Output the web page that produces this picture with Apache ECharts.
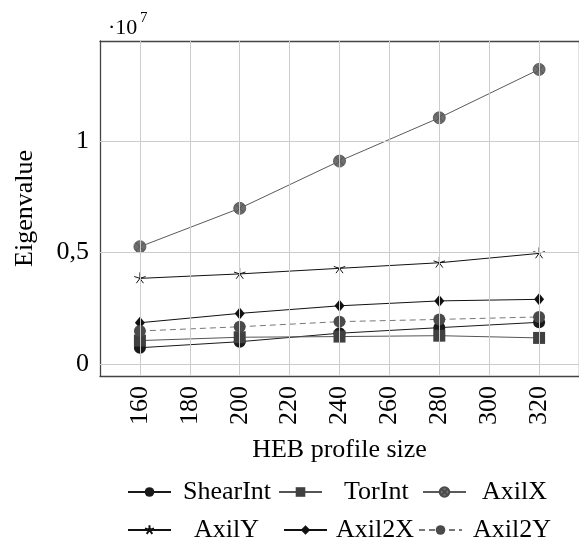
<!DOCTYPE html>
<html>
<head>
<meta charset="utf-8">
<script src="https://cdn.jsdelivr.net/npm/echarts@6/dist/echarts.min.js"></script>
<style>
html,body{margin:0;padding:0;background:#fff;}
#chart{width:579px;height:547px;}
</style>
</head>
<body>
<div id="chart"></div>
<script>
// ---- data (Eigenvalue in units of 10^7) ----
var profileSizes = [160, 200, 240, 280, 320];
var shearInt = [0.073, 0.100, 0.138, 0.163, 0.187];
var torInt   = [0.105, 0.120, 0.123, 0.127, 0.117];
var axilX    = [0.526, 0.698, 0.910, 1.104, 1.321];
var axilY    = [0.384, 0.404, 0.429, 0.454, 0.496];
var axil2X   = [0.185, 0.227, 0.261, 0.283, 0.290];
var axil2Y   = [0.148, 0.167, 0.190, 0.200, 0.211];
var xTickValues = [160, 180, 200, 220, 240, 260, 280, 300, 320];
var yTickValues = [0, 0.5, 1];

var FONT = '"Liberation Serif", "Times New Roman", serif';
function pairs(ys) { return profileSizes.map(function (x, i) { return [x, ys[i]]; }); }

var otimesPath = 'path://M10,0 A10,10 0 1,1 9.999,0 Z M2.93,2.93 L17.07,17.07 M17.07,2.93 L2.93,17.07';
var starPath = 'path://M10,10 L10,0 M10,10 L19.51,6.91 M10,10 L0.49,6.91 M10,10 L4.12,18.09 M10,10 L15.88,18.09 M0,20 M20,20';

var chart = echarts.init(document.getElementById('chart'), null, {renderer: 'canvas'});

var xMin = 144, xMax = 336, yMin = -0.0538, yMax = 1.4484;
var tickStyle = {show: true, inside: true, length: 9, lineStyle: {color: '#555', width: 1}};
var axisLineStyle = {show: true, onZero: false, lineStyle: {color: '#444', width: 1.3}};

function legendItem(name, left, top, pad) {
  return {
    data: [name], left: left, top: top, orient: 'horizontal', padding: 0,
    itemWidth: 43, itemHeight: 12, itemGap: 0, selectedMode: false,
    textStyle: {fontFamily: FONT, fontSize: 26, color: '#000', lineHeight: 30, padding: [0, 0, 0, pad]}
  };
}

var gridLines = xTickValues.map(function (v) { return {xAxis: v}; })
  .concat(yTickValues.map(function (v) { return {yAxis: v}; }));

var option = {
  backgroundColor: '#fff',
  animation: false,
  grid: {left: 100, top: 41, width: 487, height: 335, containLabel: false},
  xAxis: [{
    type: 'value', min: xMin, max: xMax, position: 'bottom',
    name: 'HEB profile size', nameLocation: 'middle', nameGap: 61,
    nameTextStyle: {fontFamily: FONT, fontSize: 26, color: '#000'},
    axisLine: axisLineStyle,
    axisTick: Object.assign({customValues: xTickValues}, tickStyle),
    axisLabel: {customValues: xTickValues, rotate: 90, margin: 10, fontFamily: FONT, fontSize: 26, color: '#000'},
    splitLine: {show: false}
  }, {
    type: 'value', min: xMin, max: xMax, position: 'top',
    axisLine: axisLineStyle,
    axisTick: Object.assign({customValues: xTickValues}, tickStyle),
    axisLabel: {show: false}, splitLine: {show: false}
  }],
  yAxis: [{
    type: 'value', min: yMin, max: yMax, position: 'left',
    name: 'Eigenvalue', nameLocation: 'middle', nameGap: 62,
    nameTextStyle: {fontFamily: FONT, fontSize: 26, color: '#000'},
    axisLine: axisLineStyle,
    axisTick: Object.assign({customValues: yTickValues}, tickStyle),
    axisLabel: {customValues: yTickValues, margin: 11, fontFamily: FONT, fontSize: 26, color: '#000',
      formatter: function (v) { return String(v).replace('.', ','); }},
    splitLine: {show: false}
  }, {
    type: 'value', min: yMin, max: yMax, position: 'right',
    axisLine: axisLineStyle,
    axisTick: Object.assign({customValues: yTickValues}, tickStyle),
    axisLabel: {show: false}, splitLine: {show: false}
  }],
  legend: [
    legendItem('ShearInt', 127, 477, 7),
    legendItem('TorInt', 278, 477, 17),
    legendItem('AxilX', 422, 477, 11),
    legendItem('AxilY', 127, 515, 18),
    legendItem('Axil2X', 283, 515, 4),
    legendItem('Axil2Y', 418, 515, 6)
  ],
  graphic: [
    {type: 'text', left: 108, top: 17, style: {text: '·10', font: '22px ' + FONT, fill: '#000'}},
    {type: 'text', left: 140, top: 11, style: {text: '7', font: '15px ' + FONT, fill: '#000'}}
  ],
  series: [
    {name: '_grid', type: 'line', data: pairs(shearInt), showSymbol: false, silent: true, z: 1,
      lineStyle: {opacity: 0}, tooltip: {show: false},
      markLine: {silent: true, symbol: 'none', label: {show: false}, animation: false,
        lineStyle: {color: '#cccccc', width: 1, type: 'solid'}, emphasis: {disabled: true},
        data: gridLines}},
    {name: 'ShearInt', type: 'line', data: pairs(shearInt), symbol: 'circle', symbolSize: 12, z: 3,
      lineStyle: {color: '#1a1a1a', width: 1}, itemStyle: {color: '#1a1a1a'}},
    {name: 'TorInt', type: 'line', data: pairs(torInt), symbol: 'rect', symbolSize: 12, z: 3,
      lineStyle: {color: '#555', width: 1}, itemStyle: {color: '#404040'}},
    {name: 'AxilX', type: 'line', data: pairs(axilX), symbol: otimesPath, symbolSize: 12, z: 3,
      lineStyle: {color: '#5a5a5a', width: 1}, itemStyle: {color: '#6e6e6e', borderColor: '#4a4a4a', borderWidth: 0.8}},
    {name: 'AxilY', type: 'line', data: pairs(axilY), symbol: starPath, symbolSize: 12, z: 3,
      lineStyle: {color: '#111', width: 1}, itemStyle: {color: '#111', borderColor: '#111', borderWidth: 1}},
    {name: 'Axil2X', type: 'line', data: pairs(axil2X), symbol: 'diamond', symbolSize: [10, 12], z: 3,
      lineStyle: {color: '#111', width: 1}, itemStyle: {color: '#111'}},
    {name: 'Axil2Y', type: 'line', data: pairs(axil2Y), symbol: 'circle', symbolSize: 12, z: 3,
      lineStyle: {color: '#777', width: 1, type: [6, 4]}, itemStyle: {color: '#4a4a4a'}}
  ]
};
chart.setOption(option);
</script>
</body>
</html>
